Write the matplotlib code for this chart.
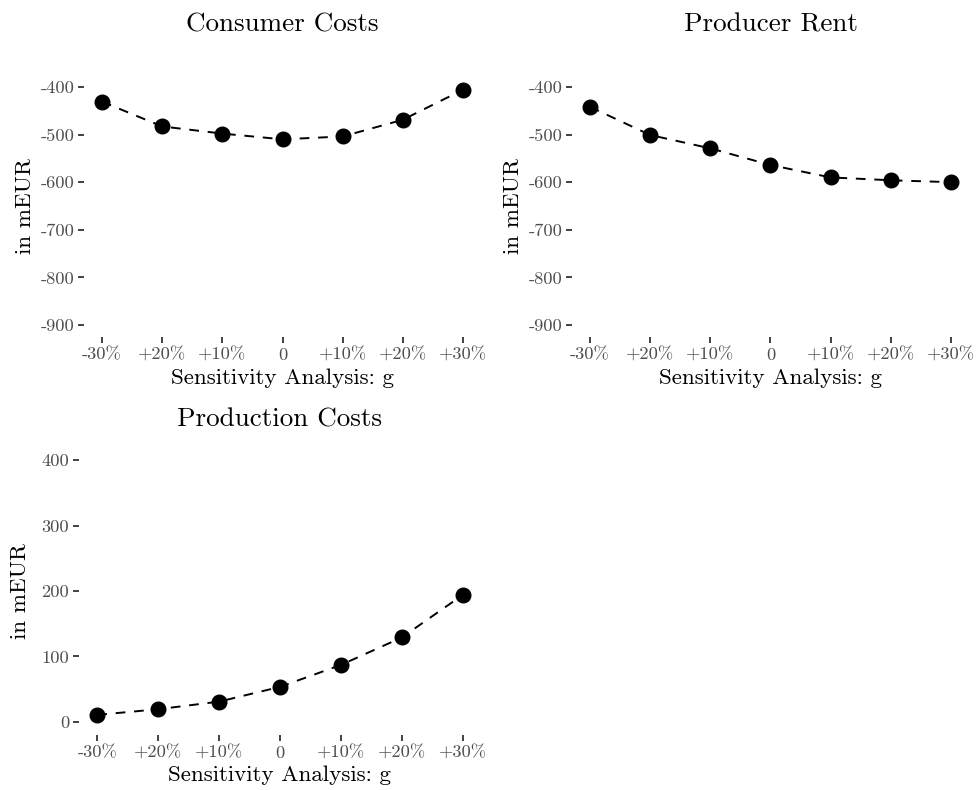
import matplotlib
matplotlib.use("Agg")
import matplotlib.pyplot as plt

plt.rcParams["font.family"] = ["cmr10", "DejaVu Serif"]
plt.rcParams["axes.formatter.use_mathtext"] = True

W, H = 978, 790

scenarios = ["-30%", "+20%", "+10%", "0", "+10%", "+20%", "+30%"]

consumer_costs = [-431, -483, -498, -510, -504, -469, -406]
producer_rent = [-442, -501, -529, -564, -590, -596, -600]
production_costs = [10.7, 19.4, 31, 53.5, 87, 129, 194]

neg_ticks = [-400, -500, -600, -700, -800, -900]
pos_ticks = [0, 100, 200, 300, 400]

TICK_GREY = "#4D4D4D"


def px_axes(fig, left, right, top, bottom):
    return fig.add_axes([left / W, 1 - bottom / H, (right - left) / W, (bottom - top) / H])


def draw_panel(fig, box, values, yticks, title, title_y, xlabel_y):
    left, right, top, bottom = box
    ax = px_axes(fig, left, right, top, bottom)
    xs = list(range(len(scenarios)))

    ax.plot(xs, values, color="black", lw=1.4, ls=(0, (5, 4.5)), zorder=2)
    ax.plot(xs, values, "o", color="black", ms=10.5, zorder=3)

    ax.set_xlim(-0.3, len(scenarios) - 0.7)
    lo, hi = min(yticks), max(yticks)
    pad = 0.05 * (hi - lo)
    ax.set_ylim(lo - pad, hi + pad)

    ax.set_xticks(xs)
    ax.set_xticklabels(scenarios)
    ax.set_yticks(yticks)
    ax.set_yticklabels([str(t) for t in yticks])

    for s in ax.spines.values():
        s.set_visible(False)
    ax.tick_params(axis="both", length=4, width=1.3, color="#333333",
                   labelcolor=TICK_GREY, labelsize=13.3, pad=3)
    ax.tick_params(axis="x", pad=3.5)

    cx = (left + right) / 2
    fig.text(cx / W, 1 - title_y / H, title, ha="center", va="center", fontsize=19.5)
    fig.text(cx / W, 1 - xlabel_y / H, "Sensitivity Analysis: g",
             ha="center", va="center", fontsize=16.6)
    fig.text((left - 59) / W, 1 - ((top + bottom) / 2) / H, "in mEUR",
             ha="center", va="center", rotation=90, fontsize=16.6)
    return ax


def main():
    fig = plt.figure(figsize=(W / 100, H / 100), dpi=100)

    draw_panel(fig, (84, 481, 75, 337), consumer_costs, neg_ticks,
               "Consumer Costs", 25, 378)
    draw_panel(fig, (572, 969, 75, 337), producer_rent, neg_ticks,
               "Producer Rent", 25, 378)
    draw_panel(fig, (79, 481, 447, 735), production_costs, pos_ticks,
               "Production Costs", 420, 775)

    fig.savefig("out.png", dpi=100)
    plt.close(fig)


if __name__ == "__main__":
    main()
